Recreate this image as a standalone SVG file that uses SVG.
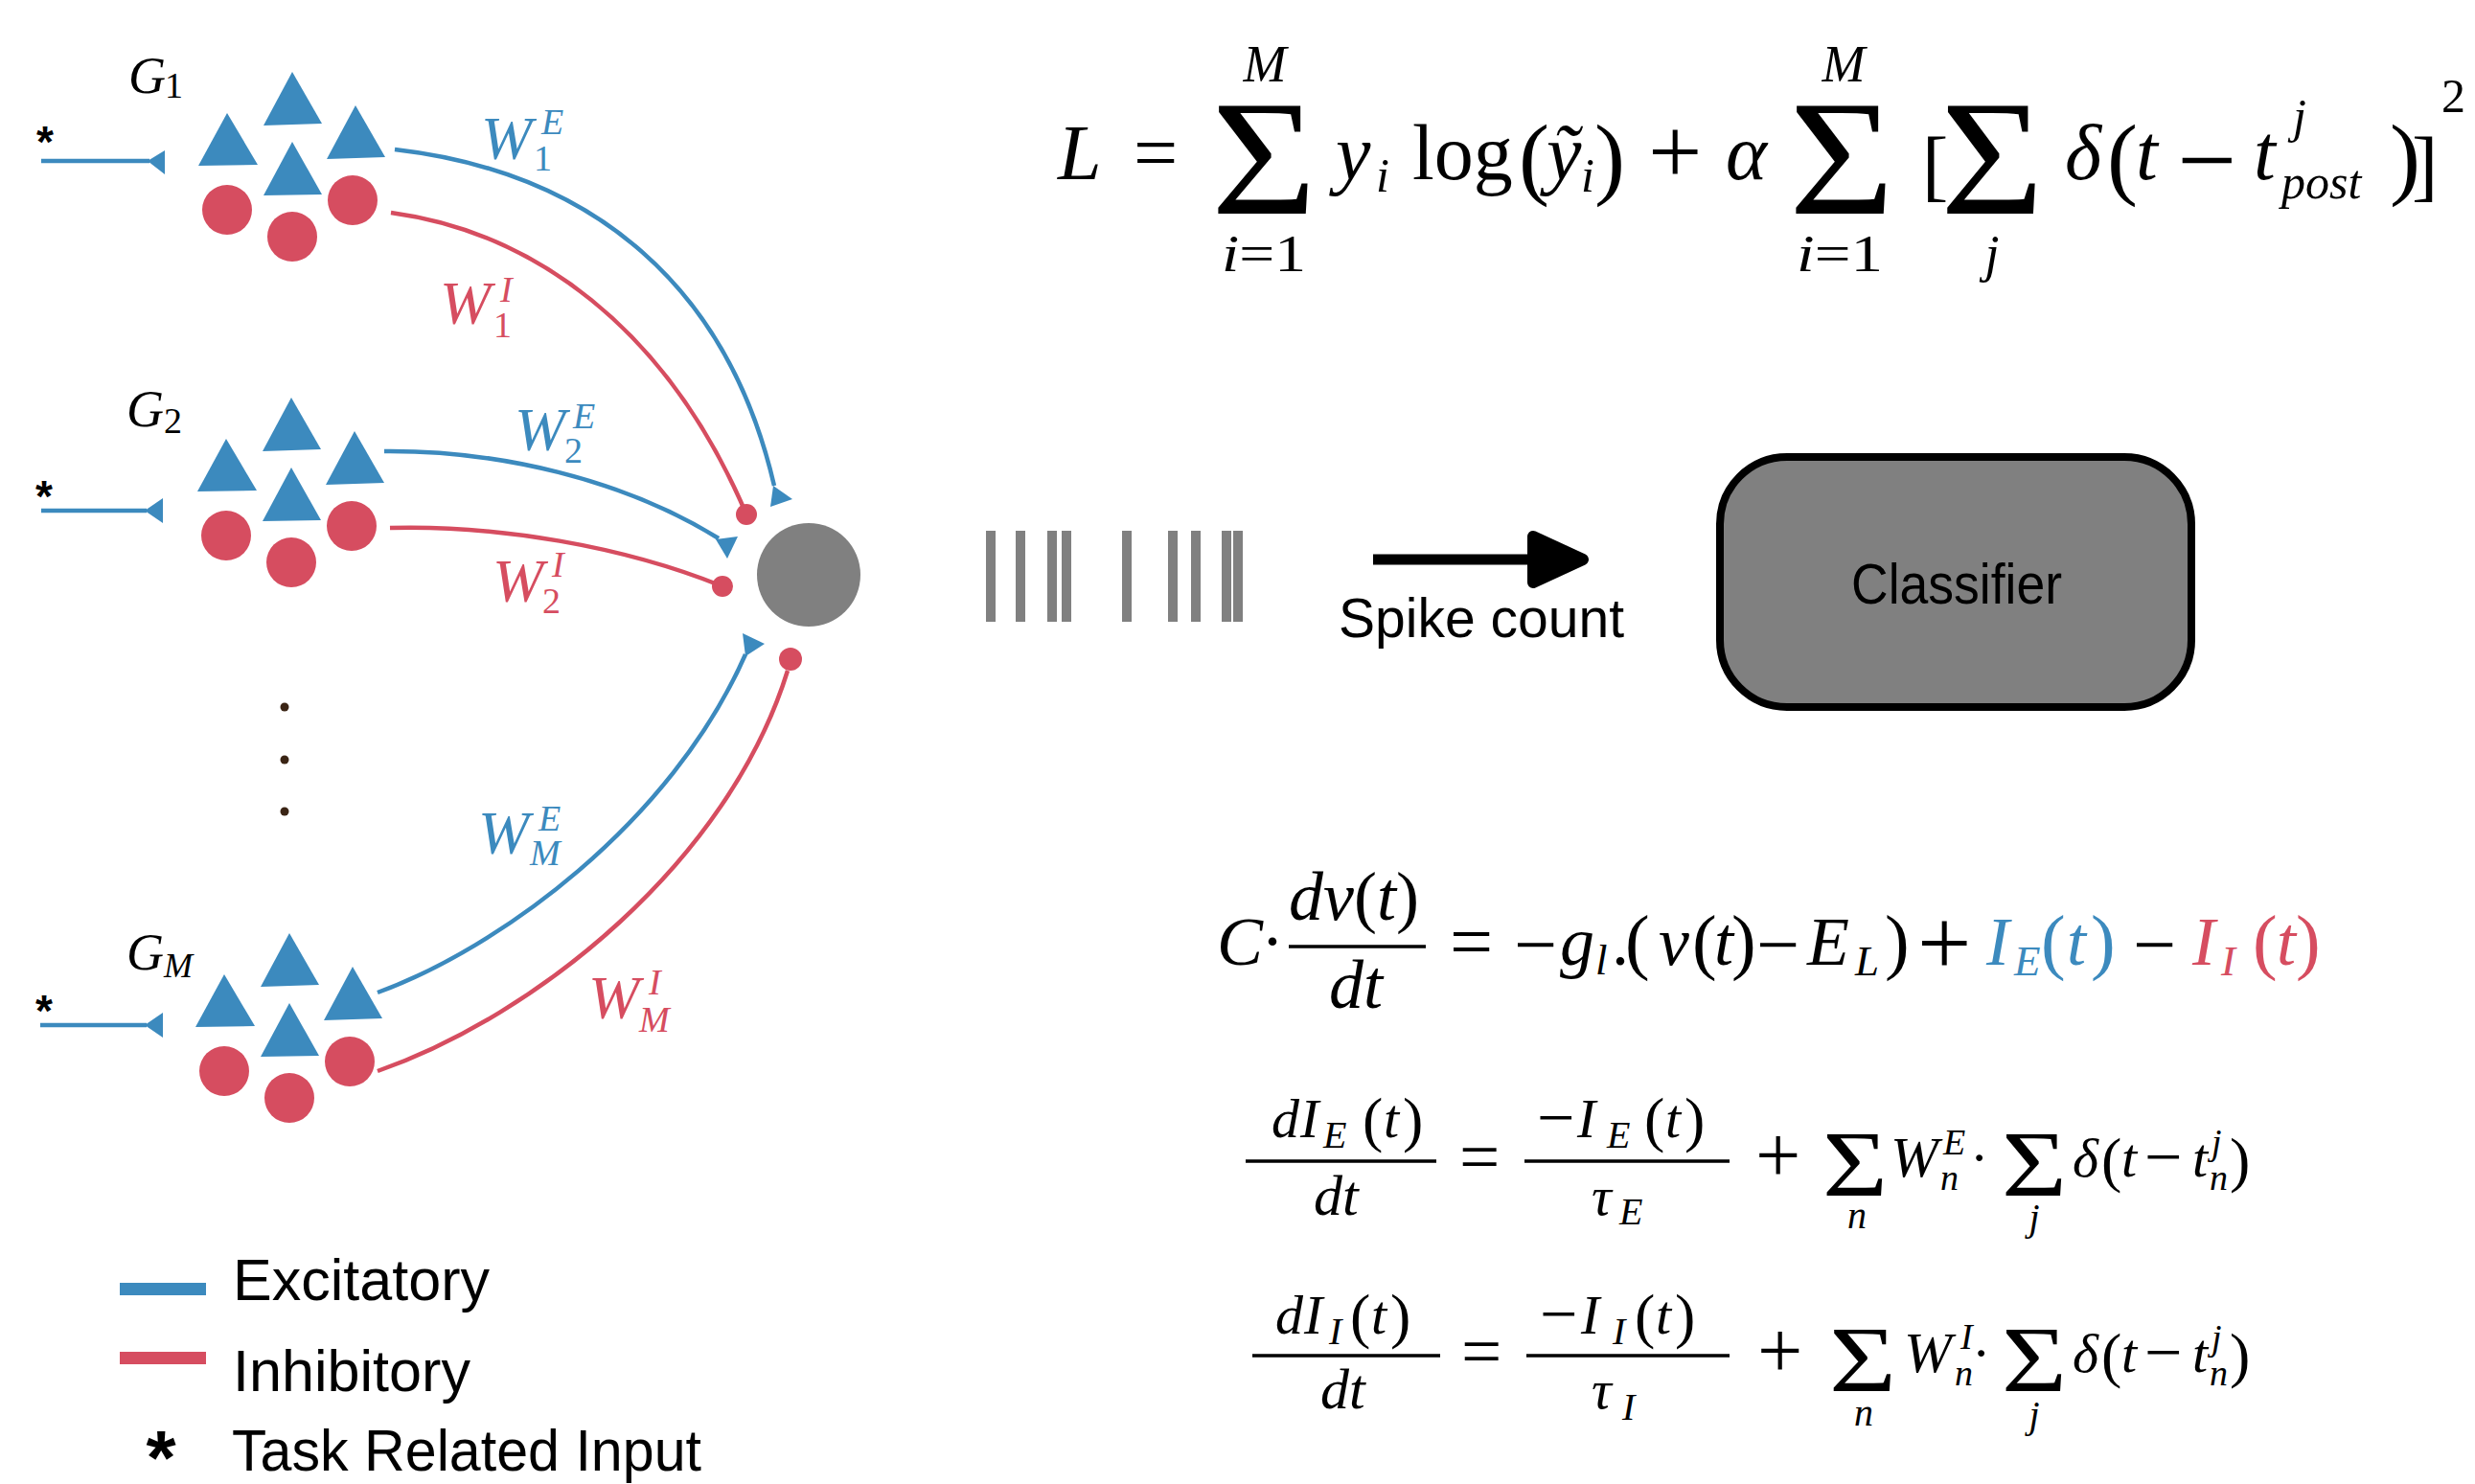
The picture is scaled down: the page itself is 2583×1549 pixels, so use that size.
<svg xmlns="http://www.w3.org/2000/svg" width="2583" height="1549" viewBox="0 0 2583 1549">
<style>
.mi{font-family:"Liberation Serif","Times New Roman",serif;font-style:italic}
.mr{font-family:"Liberation Serif","Times New Roman",serif}
.sans{font-family:"Liberation Sans",Arial,sans-serif}
.exc{fill:#3c8abe}
.inh{fill:#d64d60}
.ce{fill:none;stroke:#3c8abe;stroke-width:4.5}
.ci{fill:none;stroke:#d64d60;stroke-width:4.5}
.bar{fill:#808080}
.blue{fill:#3c8abe}
.red{fill:#d64d60}
.ast{font-family:"Liberation Sans",Arial,sans-serif;font-weight:bold;text-anchor:middle}
</style>
<defs>
<g id="pop">
<polygon class="exc" points="237,118 207,173 269,172"/>
<polygon class="exc" points="305,75 275,131 336,129"/>
<polygon class="exc" points="371,110 341,166 402,164"/>
<polygon class="exc" points="305,148 275,204 336,203"/>
<circle class="inh" cx="237" cy="219" r="26"/>
<circle class="inh" cx="305" cy="247" r="26"/>
<circle class="inh" cx="368" cy="209" r="26"/>
</g>
</defs>

<g id="group1">
<use href="#pop"/>
<text class="mi" x="134" y="97" font-size="54">G</text><text class="mr" x="172" y="102" font-size="38">1</text>
<text class="ast" x="47" y="164" font-size="46">*</text>
<line x1="43" y1="168" x2="156" y2="168" stroke="#3c8abe" stroke-width="4.5"/>
<polygon class="exc" points="154,168 172,157 172,182"/>
</g>

<g id="group2">
<use href="#pop" transform="translate(-1,340)"/>
<text class="mi" x="132" y="445" font-size="54">G</text><text class="mr" x="171" y="452" font-size="38">2</text>
<text class="ast" x="46" y="534" font-size="46">*</text>
<line x1="43" y1="533" x2="153" y2="533" stroke="#3c8abe" stroke-width="4.5"/>
<polygon class="exc" points="151,533 170,520 170,546"/>
</g>

<g id="dots">
<circle cx="297" cy="738" r="4.5" fill="#3a2414"/>
<circle cx="297" cy="793" r="4.5" fill="#3a2414"/>
<circle cx="297" cy="847" r="4.5" fill="#3a2414"/>
</g>

<g id="groupM">
<use href="#pop" transform="translate(-3,899)"/>
<text class="mi" x="132" y="1012" font-size="54">G</text><text class="mi" x="171" y="1020" font-size="36">M</text>
<text class="ast" x="46" y="1071" font-size="46">*</text>
<line x1="42" y1="1070" x2="153" y2="1070" stroke="#3c8abe" stroke-width="4.5"/>
<polygon class="exc" points="151,1070 170,1057 170,1083"/>
</g>

<g id="neuron">
<circle cx="844" cy="600" r="54" fill="#808080"/>
</g>

<g id="connectors">
<path class="ce" d="M412,156 C620,180 760,300 808,507"/>
<polygon class="exc" points="807,507 827,521 804,529"/>
<path class="ci" d="M408,222 C555,242 695,340 779,537"/>
<circle class="inh" cx="779" cy="537" r="11"/>
<path class="ce" d="M401,471 C520,470 650,500 750,562"/>
<polygon class="exc" points="747,563 770,560 759,583"/>
<path class="ci" d="M407,551 C520,548 650,570 754,612"/>
<circle class="inh" cx="754" cy="612" r="11"/>
<path class="ce" d="M394,1036 C520,990 700,860 778,683"/>
<polygon class="exc" points="775,661 798,672 778,685"/>
<path class="ci" d="M394,1118 C560,1060 760,900 822,700"/>
<circle class="inh" cx="825" cy="688" r="12"/>
<line x1="1433" y1="584" x2="1610" y2="584" stroke="#000" stroke-width="11"/>
<polygon points="1600,560 1600,608 1652,584" fill="#000" stroke="#000" stroke-width="12" stroke-linejoin="round"/>
</g>

<g id="weights">
<text class="mi blue" x="502" y="166" font-size="64">W</text><text class="mi blue" x="565" y="140" font-size="38">E</text><text class="mr blue" x="557" y="178" font-size="38">1</text>
<text class="mi red" x="459" y="338" font-size="64">W</text><text class="mi red" x="522" y="315" font-size="38">I</text><text class="mr red" x="515" y="352" font-size="38">1</text>
<text class="mi blue" x="537" y="470" font-size="64">W</text><text class="mi blue" x="598" y="447" font-size="38">E</text><text class="mr blue" x="589" y="483" font-size="38">2</text>
<text class="mi red" x="514" y="628" font-size="64">W</text><text class="mi red" x="576" y="602" font-size="38">I</text><text class="mr red" x="566" y="640" font-size="38">2</text>
<text class="mi blue" x="499" y="891" font-size="64">W</text><text class="mi blue" x="562" y="867" font-size="38">E</text><text class="mi blue" x="553" y="903" font-size="38">M</text>
<text class="mi red" x="614" y="1063" font-size="64">W</text><text class="mi red" x="677" y="1038" font-size="38">I</text><text class="mi red" x="667" y="1077" font-size="38">M</text>
</g>

<g id="raster">
<rect class="bar" x="1029" y="554" width="10" height="95"/>
<rect class="bar" x="1060" y="554" width="10" height="95"/>
<rect class="bar" x="1093" y="554" width="10" height="95"/>
<rect class="bar" x="1108" y="554" width="10" height="95"/>
<rect class="bar" x="1171" y="554" width="10" height="95"/>
<rect class="bar" x="1219" y="554" width="10" height="95"/>
<rect class="bar" x="1243" y="554" width="10" height="95"/>
<rect class="bar" x="1275" y="554" width="10" height="95"/>
<rect class="bar" x="1287" y="554" width="10" height="95"/>
</g>

<g id="spikecount">
<text class="sans" x="1397" y="665" font-size="58" textLength="298" lengthAdjust="spacingAndGlyphs">Spike count</text>
</g>

<g id="classifier">
<rect x="1795" y="477" width="492" height="261" rx="70" ry="70" fill="#808080" stroke="#000" stroke-width="8"/>
<text class="sans" x="1932" y="630" font-size="60" textLength="220" lengthAdjust="spacingAndGlyphs">Classifier</text>
</g>

<g id="legend">
<rect x="125" y="1339" width="90" height="13" fill="#3c8abe"/>
<text class="sans" x="243" y="1357" font-size="62" textLength="268" lengthAdjust="spacingAndGlyphs">Excitatory</text>
<rect x="125" y="1411" width="90" height="13" fill="#d64d60"/>
<text class="sans" x="243" y="1452" font-size="62" textLength="248" lengthAdjust="spacingAndGlyphs">Inhibitory</text>
<text class="ast" x="168" y="1549" font-size="80">*</text>
<text class="sans" x="242" y="1535" font-size="62" textLength="490" lengthAdjust="spacingAndGlyphs">Task Related Input</text>
</g>

<g id="eq-loss">
<text class="mi" x="1104" y="187" font-size="82">L</text>
<text class="mr" x="1183" y="187" font-size="82">=</text>
<text class="mr" x="1264" y="223" font-size="171" textLength="110" lengthAdjust="spacingAndGlyphs">Σ</text>
<text class="mi" x="1320" y="85" font-size="54" text-anchor="middle">M</text>
<text x="1275" y="283" font-size="54" textLength="88" lengthAdjust="spacingAndGlyphs"><tspan class="mi">i</tspan><tspan class="mr">=1</tspan></text>
<text class="mi" x="1394" y="187" font-size="82">y</text><text class="mi" x="1436" y="200" font-size="50">i</text>
<text class="mr" x="1474" y="187" font-size="82">log</text>
<text class="mr" x="1585" y="196" font-size="96">(</text>
<text class="mi" x="1614" y="187" font-size="82">ỹ</text><text class="mi" x="1650" y="200" font-size="50">i</text>
<text class="mr" x="1664" y="196" font-size="96">)</text>
<text class="mr" x="1720" y="192" font-size="100">+</text>
<text class="mi" x="1801" y="187" font-size="82">α</text>
<text class="mr" x="1867" y="223" font-size="171" textLength="110" lengthAdjust="spacingAndGlyphs">Σ</text>
<text class="mi" x="1924" y="85" font-size="54" text-anchor="middle">M</text>
<text x="1875" y="283" font-size="54" textLength="90" lengthAdjust="spacingAndGlyphs"><tspan class="mi">i</tspan><tspan class="mr">=1</tspan></text>
<text class="mr" x="2006" y="200" font-size="82">[</text>
<text class="mr" x="2025" y="223" font-size="171" textLength="108" lengthAdjust="spacingAndGlyphs">Σ</text>
<text class="mi" x="2079" y="283" font-size="54" text-anchor="middle">j</text>
<text class="mi" x="2155" y="187" font-size="82">δ</text>
<text class="mr" x="2199" y="196" font-size="96">(</text>
<text class="mi" x="2229" y="187" font-size="82">t</text>
<text class="mr" x="2272" y="204" font-size="110">−</text>
<text class="mi" x="2352" y="187" font-size="82">t</text>
<text class="mi" x="2393" y="138" font-size="50">j</text>
<text class="mi" x="2381" y="207" font-size="50">post</text>
<text class="mr" x="2494" y="196" font-size="96">)</text>
<text class="mr" x="2517" y="200" font-size="82">]</text>
<text class="mr" x="2548" y="117" font-size="50">2</text>
</g>

<g id="eq-membrane">
<text class="mi" x="1270" y="1007" font-size="72">C</text>
<text class="mr" x="1316" y="1007" font-size="72">·</text>
<text x="1345" y="960" font-size="72"><tspan class="mi">dv</tspan><tspan class="mr">(</tspan><tspan class="mi">t</tspan><tspan class="mr">)</tspan></text>
<line x1="1345" y1="988" x2="1488" y2="988" stroke="#000" stroke-width="3.5"/>
<text class="mi" x="1387" y="1052" font-size="72">dt</text>
<text class="mr" x="1513" y="1010" font-size="80">=</text>
<text class="mr" x="1580" y="1013" font-size="80">−</text>
<text class="mi" x="1628" y="1007" font-size="72">g</text><text class="mi" x="1665" y="1017" font-size="45">l</text>
<text class="mr" x="1682" y="1007" font-size="72">.</text>
<text class="mr" x="1696" y="1008" font-size="77">(</text>
<text class="mi" x="1731" y="1007" font-size="72">v</text>
<text class="mr" x="1766" y="1008" font-size="77">(</text><text class="mi" x="1789" y="1007" font-size="72">t</text><text class="mr" x="1807" y="1008" font-size="77">)</text>
<text class="mr" x="1833" y="1013" font-size="80">−</text>
<text class="mi" x="1886" y="1007" font-size="72">E</text><text class="mi" x="1936" y="1018" font-size="45">L</text>
<text class="mr" x="1967" y="1008" font-size="77">)</text>
<text class="mr" x="2001" y="1018" font-size="100">+</text>
<text class="mi blue" x="2073" y="1007" font-size="72">I</text><text class="mi blue" x="2102" y="1018" font-size="45">E</text>
<text class="mr blue" x="2130" y="1008" font-size="77">(</text><text class="mi blue" x="2157" y="1007" font-size="72">t</text><text class="mr blue" x="2182" y="1008" font-size="77">)</text>
<text class="mr" x="2226" y="1013" font-size="80">−</text>
<text class="mi red" x="2288" y="1007" font-size="72">I</text><text class="mi red" x="2318" y="1018" font-size="45">I</text>
<text class="mr red" x="2351" y="1008" font-size="77">(</text><text class="mi red" x="2376" y="1007" font-size="72">t</text><text class="mr red" x="2396" y="1008" font-size="77">)</text>
</g>

<g id="eq-IE">
<text class="mi" x="1327" y="1187" font-size="58">d</text><text class="mi" x="1357" y="1187" font-size="58">I</text><text class="mi" x="1381" y="1198" font-size="40">E</text>
<text class="mr" x="1422" y="1190" font-size="64">(</text><text class="mi" x="1444" y="1187" font-size="58">t</text><text class="mr" x="1464" y="1190" font-size="64">)</text>
<line x1="1300" y1="1212" x2="1499" y2="1212" stroke="#000" stroke-width="3.5"/>
<text class="mi" x="1371" y="1268" font-size="60">dt</text>
<text class="mr" x="1523" y="1232" font-size="75">=</text>
<text class="mr" x="1604" y="1190" font-size="70">−</text><text class="mi" x="1646" y="1187" font-size="58">I</text><text class="mi" x="1677" y="1198" font-size="40">E</text>
<text class="mr" x="1716" y="1190" font-size="64">(</text><text class="mi" x="1738" y="1187" font-size="58">t</text><text class="mr" x="1758" y="1190" font-size="64">)</text>
<line x1="1591" y1="1212" x2="1805" y2="1212" stroke="#000" stroke-width="3.5"/>
<text class="mi" x="1661" y="1268" font-size="58">τ</text><text class="mi" x="1690" y="1278" font-size="40">E</text>
<text class="mr" x="1832" y="1234" font-size="84">+</text>
<text class="mr" x="1902" y="1248" font-size="98" textLength="68" lengthAdjust="spacingAndGlyphs">Σ</text>
<text class="mi" x="1938" y="1282" font-size="40" text-anchor="middle">n</text>
<text class="mi" x="1973" y="1228" font-size="60">W</text><text class="mi" x="2028" y="1205" font-size="38">E</text><text class="mi" x="2025" y="1242" font-size="38">n</text>
<text class="mr" x="2056" y="1228" font-size="58">·</text>
<text class="mr" x="2089" y="1248" font-size="98" textLength="68" lengthAdjust="spacingAndGlyphs">Σ</text>
<text class="mi" x="2123" y="1284" font-size="40" text-anchor="middle">j</text>
<text class="mi" x="2163" y="1228" font-size="58">δ</text><text class="mr" x="2193" y="1232" font-size="64">(</text><text class="mi" x="2214" y="1228" font-size="58">t</text>
<text class="mr" x="2238" y="1231" font-size="70">−</text><text class="mi" x="2288" y="1228" font-size="58">t</text>
<text class="mi" x="2308" y="1205" font-size="38">j</text><text class="mi" x="2306" y="1242" font-size="38">n</text>
<text class="mr" x="2327" y="1232" font-size="64">)</text>
</g>

<g id="eq-II">
<text class="mi" x="1331" y="1392" font-size="58">d</text><text class="mi" x="1361" y="1392" font-size="58">I</text><text class="mi" x="1387" y="1403" font-size="40">I</text>
<text class="mr" x="1409" y="1395" font-size="64">(</text><text class="mi" x="1431" y="1392" font-size="58">t</text><text class="mr" x="1451" y="1395" font-size="64">)</text>
<line x1="1307" y1="1415" x2="1503" y2="1415" stroke="#000" stroke-width="3.5"/>
<text class="mi" x="1378" y="1470" font-size="60">dt</text>
<text class="mr" x="1525" y="1435" font-size="75">=</text>
<text class="mr" x="1607" y="1395" font-size="70">−</text><text class="mi" x="1650" y="1392" font-size="58">I</text><text class="mi" x="1683" y="1403" font-size="40">I</text>
<text class="mr" x="1706" y="1395" font-size="64">(</text><text class="mi" x="1728" y="1392" font-size="58">t</text><text class="mr" x="1748" y="1395" font-size="64">)</text>
<line x1="1593" y1="1415" x2="1805" y2="1415" stroke="#000" stroke-width="3.5"/>
<text class="mi" x="1661" y="1470" font-size="58">τ</text><text class="mi" x="1693" y="1482" font-size="40">I</text>
<text class="mr" x="1834" y="1438" font-size="84">+</text>
<text class="mr" x="1909" y="1452" font-size="98" textLength="70" lengthAdjust="spacingAndGlyphs">Σ</text>
<text class="mi" x="1945" y="1488" font-size="40" text-anchor="middle">n</text>
<text class="mi" x="1987" y="1432" font-size="60">W</text><text class="mi" x="2046" y="1408" font-size="38">I</text><text class="mi" x="2040" y="1446" font-size="38">n</text>
<text class="mr" x="2058" y="1432" font-size="58">·</text>
<text class="mr" x="2089" y="1452" font-size="98" textLength="68" lengthAdjust="spacingAndGlyphs">Σ</text>
<text class="mi" x="2123" y="1490" font-size="40" text-anchor="middle">j</text>
<text class="mi" x="2163" y="1432" font-size="58">δ</text><text class="mr" x="2193" y="1436" font-size="64">(</text><text class="mi" x="2214" y="1432" font-size="58">t</text>
<text class="mr" x="2238" y="1435" font-size="70">−</text><text class="mi" x="2288" y="1432" font-size="58">t</text>
<text class="mi" x="2308" y="1409" font-size="38">j</text><text class="mi" x="2306" y="1446" font-size="38">n</text>
<text class="mr" x="2327" y="1436" font-size="64">)</text>
</g>
</svg>
